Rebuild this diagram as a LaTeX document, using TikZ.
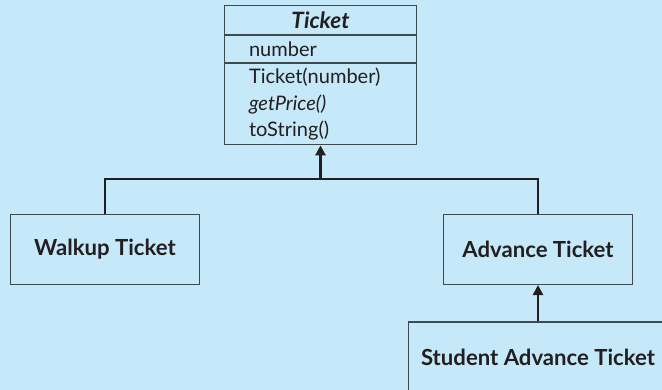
\documentclass[tikz,border=0pt]{standalone}
\usepackage{fontspec}
\setmainfont{Lato}
\usetikzlibrary{positioning,arrows.meta}
\definecolor{sky}{RGB}{198,233,249}
\definecolor{ink}{RGB}{35,31,32}
\definecolor{edge}{RGB}{62,74,80}

\begin{document}
\begin{tikzpicture}[line join=miter,
    box/.style={draw=edge, line width=0.6pt, fill=sky, text=ink,
                font=\fontsize{12.6}{15}\selectfont\bfseries},
    part/.style={draw=edge, line width=0.6pt, fill=sky, text=ink,
                 minimum width=3.85cm, text width=2.86cm, inner xsep=0.495cm,
                 inner ysep=0pt, align=left, font=\fontsize{11.4}{15}\selectfont},
    link/.style={draw=ink, line width=1.5pt},
    isa/.style={link, -{Triangle[width=5.7pt,length=5.7pt]}}]
  % page: 662 x 390 px, 1px = 0.02cm
  \useasboundingbox (0,0) rectangle (13.24,-7.8);
  \fill[sky] (0,0) rectangle (13.24,-7.8);

  % ---- Ticket class (name / attributes / operations) ----
  \node[part, anchor=north, minimum height=0.59cm, align=center]
       (tname) at (6.41,-0.094) {\fontsize{12.8}{15}\selectfont\textbf{\textit{Ticket}}};
  \node[part, below=0pt of tname, minimum height=0.53cm] (tattr) {number};
  \node[part, below=0pt of tattr, minimum height=1.63cm]  (tops)
       {Ticket(number)\\ \textit{getPrice()}\\ toString()};

  % ---- Subclasses ----
  \node[box, minimum width=3.78cm, minimum height=1.41cm] (walkup)  at (2.10,-4.99)  {Walkup Ticket};
  \node[box, minimum width=3.79cm, minimum height=1.40cm] (advance) at (10.76,-4.99) {Advance Ticket};
  \node[box, minimum width=5.19cm, minimum height=1.40cm] (student) at (10.76,-7.14) {Student Advance Ticket};

  % ---- Generalisation ----
  \coordinate (hub) at (6.41,-3.58);
  \draw[link] (walkup.north) |- (hub) -| (advance.north);
  \draw[isa] (hub) -- (tops.south);
  \draw[isa] (student.north) -- (advance.south);
\end{tikzpicture}
\end{document}
